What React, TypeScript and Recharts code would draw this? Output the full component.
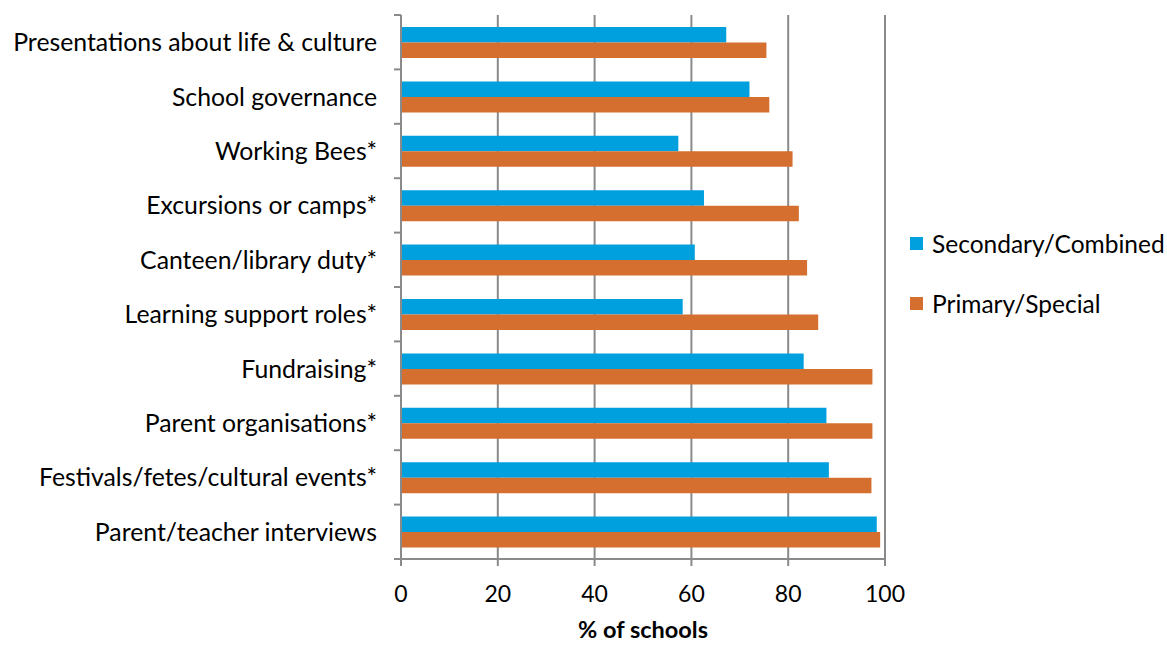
import { BarChart, Bar, XAxis, YAxis, CartesianGrid, Legend } from "recharts";

const categories = [
  "Presentations about life & culture",
  "School governance",
  "Working Bees*",
  "Excursions or camps*",
  "Canteen/library duty*",
  "Learning support roles*",
  "Fundraising*",
  "Parent organisations*",
  "Festivals/fetes/cultural events*",
  "Parent/teacher interviews",
];

const secondaryCombined = [67.2, 72.0, 57.3, 62.6, 60.7, 58.2, 83.2, 87.9, 88.4, 98.3];
const primarySpecial = [75.5, 76.1, 80.9, 82.2, 83.9, 86.2, 97.4, 97.4, 97.2, 99.0];

const xTicks = [0, 20, 40, 60, 80, 100];

const SERIES = [
  { key: "secondary", label: "Secondary/Combined", color: "#009FDE" },
  { key: "primary", label: "Primary/Special", color: "#D46F2F" },
] as const;

const data = categories.map((name, i) => ({
  name,
  secondary: secondaryCombined[i],
  primary: primarySpecial[i],
}));

const W = 1167;
const H = 646;
const LEGEND_W = 257;
// the legend's width is added to the right offset by recharts
const MARGIN = { top: 15, right: 282 - LEGEND_W, bottom: 0, left: 0 };
const Y_AXIS_W = 401;
const X_AXIS_H = 87;
const PLOT_H = H - MARGIN.top - MARGIN.bottom - X_AXIS_H;
const BAND = PLOT_H / categories.length;
const GRID = "#8a8a8a";
const FONT = "Lato, 'Open Sans', sans-serif";

// category label + Excel-style tick marks on the band boundaries
function CategoryTick(props: any) {
  const { x, y, payload, index } = props;
  const axisX = x + 24;
  return (
    <g>
      <text x={x} y={y} dy="0.36em" textAnchor="end" fill="#000" fontSize={24.8} fontFamily={FONT}>
        {payload.value}
      </text>
      <line x1={axisX - 7} x2={axisX} y1={y - BAND / 2} y2={y - BAND / 2} stroke={GRID} strokeWidth={2} />
      {index === categories.length - 1 && (
        <line x1={axisX - 7} x2={axisX} y1={y + BAND / 2} y2={y + BAND / 2} stroke={GRID} strokeWidth={2} />
      )}
    </g>
  );
}

function renderLegend() {
  return (
    <div style={{ fontFamily: FONT, fontSize: 24.5, color: "#000" }}>
      {SERIES.map((s) => (
        <div key={s.key} style={{ display: "flex", alignItems: "center", height: 30, marginBottom: 30 }}>
          <span style={{ display: "inline-block", width: 13, height: 13, background: s.color, marginRight: 9 }} />
          {s.label}
        </div>
      ))}
    </div>
  );
}

export default function App() {
  return (
    <div style={{ width: W, height: H, background: "#fff" }}>
      <style>{`body{margin:0}`}</style>
      <BarChart
        width={W}
        height={H}
        data={data}
        layout="vertical"
        margin={MARGIN}
        barSize={15.5}
        barGap={0}
        style={{ fontFamily: FONT }}
      >
        <CartesianGrid horizontal={false} vertical stroke={GRID} strokeWidth={2} />
        <XAxis
          type="number"
          domain={[0, 100]}
          ticks={xTicks}
          height={X_AXIS_H}
          tickSize={7}
          tickMargin={20}
          stroke={GRID}
          strokeWidth={2}
          tick={{ fill: "#000", fontSize: 23, fontFamily: FONT }}
          label={{
            value: "% of schools",
            position: "insideBottom",
            offset: 8,
            fill: "#000",
            fontSize: 23.5,
            fontWeight: "bold",
            fontFamily: FONT,
          }}
        />
        <YAxis
          type="category"
          dataKey="name"
          width={Y_AXIS_W}
          tickSize={7}
          tickMargin={17}
          tickLine={false}
          stroke={GRID}
          strokeWidth={2}
          interval={0}
          tick={<CategoryTick />}
        />
        <Legend
          layout="horizontal"
          verticalAlign="middle"
          align="right"
          wrapperStyle={{ left: 910, top: 228, width: LEGEND_W }}
          content={renderLegend}
        />
        {SERIES.map((s) => (
          <Bar key={s.key} dataKey={s.key} name={s.label} fill={s.color} isAnimationActive={false} />
        ))}
      </BarChart>
    </div>
  );
}
